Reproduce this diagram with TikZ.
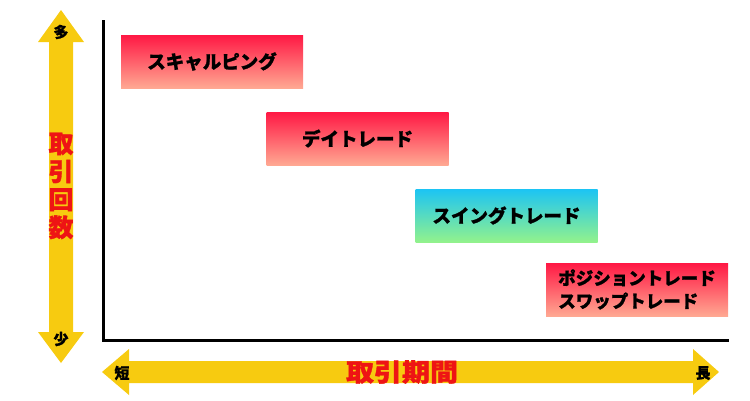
\documentclass[tikz,border=0pt]{standalone}
\usepackage{fontspec}
\newfontfamily\jp[FakeBold=1.2]{Noto Sans CJK JP}
\definecolor{ayellow}{RGB}{247,203,16}
\definecolor{rtop}{RGB}{255,24,68}
\definecolor{rbot}{RGB}{255,168,146}
\definecolor{ctop}{RGB}{28,196,244}
\definecolor{cbot}{RGB}{146,242,140}
\definecolor{lred}{RGB}{238,20,20}
\tikzset{
  redbox/.style={rectangle, minimum width=182pt, minimum height=53pt, inner sep=0pt,
    top color=rtop, bottom color=rbot, font=\jp\bfseries\fontsize{18.5}{22}\selectfont, align=left},
  cyanbox/.style={redbox, top color=ctop, bottom color=cbot},
  endlab/.style={font=\jp\bfseries\fontsize{15}{15}\selectfont, text=black},
  bigred/.style={font=\jp\bfseries\fontsize{25}{28}\selectfont, text=lred},
  axis/.style={line width=3pt, black},
  yarrow/.style={fill=ayellow, draw=none}
}
\begin{document}
\begin{tikzpicture}[x=1pt,y=-1pt]
\useasboundingbox (0,0) rectangle (750,400);
% vertical yellow arrow
\fill[yarrow] (61,10) -- (84,42) -- (73,42) -- (73,332) -- (84,332) -- (61,363)
  -- (38,332) -- (49,332) -- (49,42) -- (38,42) -- cycle;
% horizontal yellow arrow
\fill[yarrow] (102,372) -- (129,349) -- (129,361) -- (693,361) -- (693,349) -- (719,372)
  -- (693,395) -- (693,383) -- (129,383) -- (129,395) -- cycle;
% axes
\coordinate (top) at (103,20);
\coordinate (origin) at (103,340);
\coordinate (right) at (729,340);
\draw[axis] (top) -- (origin) -- (right);
% labels on arrows
\node[endlab] (many) at (61,32) {多};
\node[endlab] (few) at (61,339) {少};
\node[endlab] (short) at (122,373) {短};
\node[endlab] (long) at (703,373) {長};
\node[bigred, align=center] (count) at (61,186) {取\\引\\回\\数};
\node[bigred, xscale=1.12] (period) at (402,372) {取引期間};
% boxes
\node[redbox] (scalp) at (212,61.5) {スキャルピング};
\node[redbox] (day) at (357.5,138.5) {デイトレード};
\node[cyanbox] (swing) at (506.5,215.5) {スイングトレード};
\node[redbox, font=\jp\bfseries\fontsize{17.5}{23}\selectfont] (pos) at (637,289.5) {ポジショントレード\\スワップトレード};
\end{tikzpicture}
\end{document}
